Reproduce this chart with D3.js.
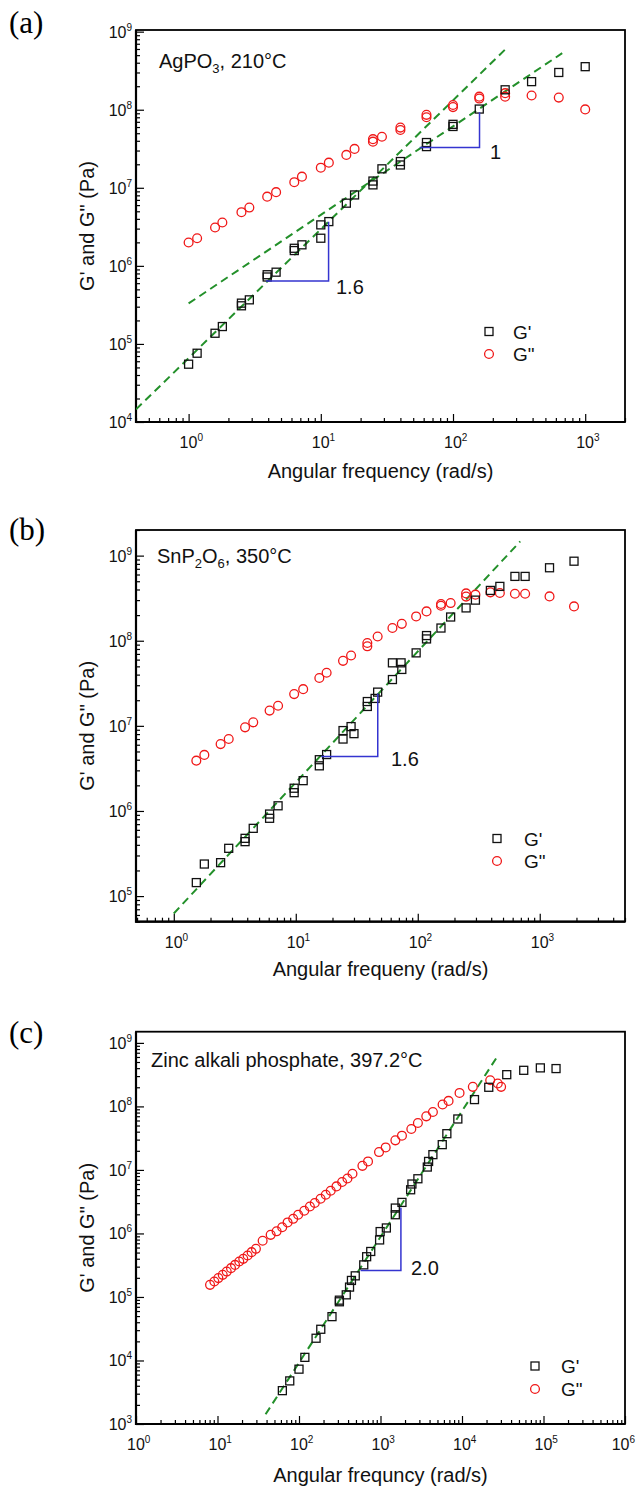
<!DOCTYPE html>
<html>
<head>
<meta charset="utf-8">
<script src="https://cdn.jsdelivr.net/npm/d3@7"></script>
<style>
  html, body { margin: 0; padding: 0; background: #fff; }
  svg { display: block; }
</style>
</head>
<body>
<svg id="fig" width="636" height="1489"></svg>
<script>
// ---------- Panel (a): AgPO3, 210 °C ----------
const aGpFreq  = [1.0, 1.16, 1.585, 1.8, 2.51, 2.51, 2.88, 3.93, 3.93, 4.59, 6.3, 6.3, 7.2, 10, 10, 11.5, 15.6, 18, 24.8, 24.8, 29, 40, 40, 63, 63, 100, 100, 158, 248, 393, 631, 1000];
const aGpMod   = [5.5e4, 7.6e4, 1.37e5, 1.67e5, 3.08e5, 3.33e5, 3.67e5, 7.2e5, 7.7e5, 8.3e5, 1.57e6, 1.68e6, 1.86e6, 2.26e6, 3.35e6, 3.69e6, 6.35e6, 8.1e6, 1.09e7, 1.22e7, 1.75e7, 1.96e7, 2.17e7, 3.37e7, 3.8e7, 6.1e7, 6.5e7, 1.02e8, 1.8e8, 2.29e8, 3.0e8, 3.56e8];
const aGppFreq = [1.0, 1.16, 1.585, 1.8, 2.51, 2.88, 3.93, 4.59, 6.3, 7.2, 10, 11.5, 15.6, 18, 24.8, 24.8, 29, 40, 40, 63, 63, 100, 100, 158, 158, 248, 248, 393, 631, 1000];
const aGppMod  = [1.99e6, 2.26e6, 3.1e6, 3.59e6, 4.87e6, 5.58e6, 7.7e6, 8.8e6, 1.18e7, 1.39e7, 1.81e7, 2.1e7, 2.64e7, 3.15e7, 3.9e7, 4.2e7, 4.5e7, 5.5e7, 5.9e7, 8.0e7, 8.6e7, 1.08e8, 1.15e8, 1.39e8, 1.47e8, 1.47e8, 1.63e8, 1.52e8, 1.43e8, 1.01e8];
const aFit1Freq = [0.4, 253];
const aFit1Mod  = [1.45e4, 6.1e8];
const aFit2Freq = [1, 670];
const aFit2Mod  = [3.3e5, 5.3e8];
const aSlopeLabels = ["1.6", "1"];
const aSlopeValues = [1.6, 1];
const aTriFreq = [[3.85, 11.45], [56, 158.7]];
const aTriBase = [6.4e5, 3.27e7];
const aXTicks = [1, 10, 100, 1000];
const aYTicks = [1e4, 1e5, 1e6, 1e7, 1e8, 1e9];

// ---------- Panel (b): SnP2O6, 350 °C ----------
const bGpFreq  = [1.53, 1.78, 2.42, 2.82, 3.84, 3.84, 4.48, 6.1, 6.1, 7.16, 9.7, 9.7, 11.5, 15.6, 15.6, 17.9, 24.4, 24.4, 28.4, 30, 38.6, 38.6, 44.7, 46.9, 62, 62, 73, 74, 97, 118, 118, 155, 186, 249, 297, 394, 471, 626, 759, 1203, 1910];
const bGpMod   = [1.44e5, 2.38e5, 2.47e5, 3.64e5, 4.36e5, 4.77e5, 6.25e5, 8.2e5, 9.2e5, 1.15e6, 1.64e6, 1.85e6, 2.27e6, 3.39e6, 4.0e6, 4.6e6, 7.0e6, 8.8e6, 9.8e6, 8.1e6, 1.69e7, 1.93e7, 2.1e7, 2.49e7, 3.5e7, 5.5e7, 5.5e7, 4.6e7, 7.2e7, 1.05e8, 1.15e8, 1.41e8, 1.9e8, 2.43e8, 3.0e8, 3.9e8, 4.35e8, 5.7e8, 5.7e8, 7.2e8, 8.6e8];
const bGppFreq = [1.53, 1.78, 2.42, 2.82, 3.84, 4.48, 6.1, 7.16, 9.7, 11.5, 15.6, 17.9, 24.4, 28.4, 38.6, 38.6, 46.9, 62, 74, 97, 118, 155, 155, 186, 249, 249, 297, 394, 471, 626, 759, 1203, 1910];
const bGppMod  = [3.9e6, 4.56e6, 6.1e6, 7.0e6, 9.6e6, 1.1e7, 1.51e7, 1.72e7, 2.36e7, 2.7e7, 3.65e7, 4.2e7, 5.8e7, 6.7e7, 8.6e7, 9.4e7, 1.12e8, 1.41e8, 1.58e8, 1.93e8, 2.21e8, 2.58e8, 2.7e8, 2.77e8, 3.3e8, 3.6e8, 3.48e8, 3.7e8, 3.64e8, 3.57e8, 3.57e8, 3.32e8, 2.53e8];
const bFitFreq = [1.0, 692];
const bFitMod  = [6.25e4, 1.47e9];
const bSlopeLabels = ["1.6"];
const bSlopeValues = [1.6];
const bTriFreq = [[16.2, 47]];
const bTriBase = [4.35e6];
const bXTicks = [1, 10, 100, 1000];
const bYTicks = [1e5, 1e6, 1e7, 1e8, 1e9];

// ---------- Panel (c): zinc alkali phosphate, 397.2 °C ----------
const cGpFreq  = [62.5, 77, 100, 118, 162, 185, 254, 313, 313, 380, 417, 440, 490, 623, 676, 759, 975, 990, 1180, 1520, 1520, 1833, 2343, 2430, 2876, 3752, 3890, 4395, 5725, 6518, 8890, 14230, 21300, 35400, 57200, 91500, 142500];
const cGpMod   = [3.35e3, 4.77e3, 7.3e3, 1.12e4, 2.24e4, 3.1e4, 4.9e4, 8.4e4, 8.9e4, 1.08e5, 1.43e5, 1.82e5, 2.15e5, 3.2e5, 4.3e5, 5.2e5, 7.9e5, 1.07e6, 1.22e6, 1.97e6, 2.51e6, 3.08e6, 4.87e6, 6.0e6, 7.26e6, 1.11e7, 1.36e7, 1.74e7, 2.5e7, 3.72e7, 6.34e7, 1.28e8, 2.0e8, 3.16e8, 3.7e8, 4.04e8, 3.94e8];
const cGppFreq = [8.10, 9.15, 10.24, 11.59, 12.97, 14.65, 16.4, 18.5, 20.7, 23.4, 26.2, 29.6, 35.8, 44.9, 53.1, 62.2, 72.4, 84.8, 97.6, 116, 136, 156, 184, 213, 245, 288, 338, 393, 453, 600, 703, 959, 1158, 1522, 1833, 2389, 2876, 3645, 4395, 5777, 6840, 9330, 13580, 22180, 27480, 30200];
const cGppMod  = [1.55e5, 1.75e5, 1.98e5, 2.23e5, 2.51e5, 2.84e5, 3.2e5, 3.61e5, 3.98e5, 4.49e5, 5.08e5, 5.73e5, 7.66e5, 9.5e5, 1.08e6, 1.25e6, 1.49e6, 1.70e6, 1.97e6, 2.28e6, 2.66e6, 3.01e6, 3.52e6, 4.06e6, 4.7e6, 5.5e6, 6.45e6, 7.34e6, 8.71e6, 1.16e7, 1.36e7, 1.91e7, 2.26e7, 2.92e7, 3.46e7, 4.41e7, 5.49e7, 6.97e7, 8.17e7, 1.07e8, 1.22e8, 1.63e8, 2.03e8, 2.58e8, 2.29e8, 2.03e8];
const cFitFreq = [38.9, 28000];
const cFitMod  = [1.42e3, 6.5e8];
const cSlopeLabels = ["2.0"];
const cSlopeValues = [2.0];
const cTriFreq = [[569, 1780]];
const cTriBase = [2.6e5];
const cXTicks = [1, 10, 100, 1000, 1e4, 1e5, 1e6];
const cYTicks = [1e3, 1e4, 1e5, 1e6, 1e7, 1e8, 1e9];

const legendLabels = ["G'", 'G"'];
const yTitle = 'G\' and G" (Pa)';

// ---------- styling ----------
const FONT = "'Liberation Sans', Arial, Helvetica, sans-serif";
const SERIF = "'Liberation Serif', 'Times New Roman', serif";
const RED = "#f01818";
const BLACK = "#111";
const GREEN = "#23902a";
const BLUE = "#3434d0";
const PAGE_W = 636;

const panels = [
  {
    letter: "(a)", letterY: 33,
    box: { x0: 136, x1: 625, y0: 30, y1: 422 },
    xDomain: [0.4, 2000], yDomain: [1e4, 1.05e9],
    xTicks: aXTicks, yTicks: aYTicks,
    gp: [aGpFreq, aGpMod], gpp: [aGppFreq, aGppMod],
    fits: [[aFit1Freq, aFit1Mod], [aFit2Freq, aFit2Mod]],
    tris: aTriFreq.map((f, i) => ({ f, base: aTriBase[i], slope: aSlopeValues[i], label: aSlopeLabels[i] })),
    triLabelPos: [[336, 294], [490, 159]],
    title: [{ t: "AgPO" }, { t: "3", sub: true }, { t: ", 210°C" }], titlePos: [159, 68],
    legend: { x: 489, y: 331.5, tx: 513, dy: 22.5 },
    xTitle: "Angular frequency (rad/s)", xTitleY: 478
  },
  {
    letter: "(b)", letterY: 540,
    box: { x0: 136, x1: 625, y0: 530, y1: 921.7 },
    xDomain: [0.49, 5000], yDomain: [5e4, 2e9],
    xTicks: bXTicks, yTicks: bYTicks,
    gp: [bGpFreq, bGpMod], gpp: [bGppFreq, bGppMod],
    fits: [[bFitFreq, bFitMod]],
    tris: bTriFreq.map((f, i) => ({ f, base: bTriBase[i], slope: bSlopeValues[i], label: bSlopeLabels[i] })),
    triLabelPos: [[391, 766]],
    title: [{ t: "SnP" }, { t: "2", sub: true }, { t: "O" }, { t: "6", sub: true }, { t: ", 350°C" }], titlePos: [157, 563],
    legend: { x: 497, y: 838.5, tx: 524, dy: 22.5 },
    xTitle: "Angular frequeny (rad/s)", xTitleY: 976
  },
  {
    letter: "(c)", letterY: 1043,
    box: { x0: 136, x1: 625, y0: 1031.7, y1: 1424 },
    xDomain: [1, 1e6], yDomain: [1e3, 1.5e9],
    xTicks: cXTicks, yTicks: cYTicks,
    gp: [cGpFreq, cGpMod], gpp: [cGppFreq, cGppMod],
    fits: [[cFitFreq, cFitMod]],
    tris: cTriFreq.map((f, i) => ({ f, base: cTriBase[i], slope: cSlopeValues[i], label: cSlopeLabels[i] })),
    triLabelPos: [[411, 1275]],
    title: [{ t: "Zinc alkali phosphate, 397.2°C" }], titlePos: [151, 1067],
    legend: { x: 535, y: 1366, tx: 561, dy: 23 },
    xTitle: "Angular frequncy (rad/s)", xTitleY: 1482
  }
];

const svg = d3.select("#fig");
svg.append("rect").attr("width", PAGE_W).attr("height", 1489).attr("fill", "#fff");

function minorTicks(domain) {
  const out = [];
  const e0 = Math.floor(Math.log10(domain[0])), e1 = Math.ceil(Math.log10(domain[1]));
  for (let e = e0; e <= e1; e++) {
    for (let k = 2; k <= 9; k++) {
      const v = k * Math.pow(10, e);
      if (v >= domain[0] && v <= domain[1]) out.push(v);
    }
  }
  return out;
}

function powLabel(sel, v) {
  const e = Math.round(Math.log10(v));
  sel.append("tspan").text("10");
  sel.append("tspan").attr("dy", -7).attr("font-size", 10).text(e);
}

panels.forEach((p, pi) => {
  const b = p.box;
  const x = d3.scaleLog().domain(p.xDomain).range([b.x0, b.x1]);
  const y = d3.scaleLog().domain(p.yDomain).range([b.y1, b.y0]);
  const g = svg.append("g");

  const clipId = "clip" + pi;
  g.append("clipPath").attr("id", clipId)
    .append("rect").attr("x", b.x0).attr("y", b.y0)
    .attr("width", b.x1 - b.x0).attr("height", b.y1 - b.y0);

  // bottom axis ticks (pointing inward)
  const xMaj = g.append("g").attr("transform", `translate(0,${b.y1})`)
    .call(d3.axisBottom(x).tickValues(p.xTicks).tickSize(-8).tickFormat(() => ""));
  const xMin = g.append("g").attr("transform", `translate(0,${b.y1})`)
    .call(d3.axisBottom(x).tickValues(minorTicks(p.xDomain)).tickSize(-4).tickFormat(() => ""));
  // left axis ticks (pointing inward)
  const yMaj = g.append("g").attr("transform", `translate(${b.x0},0)`)
    .call(d3.axisLeft(y).tickValues(p.yTicks).tickSize(-8).tickFormat(() => ""));
  const yMin = g.append("g").attr("transform", `translate(${b.x0},0)`)
    .call(d3.axisLeft(y).tickValues(minorTicks(p.yDomain)).tickSize(-4).tickFormat(() => ""));
  [xMaj, xMin, yMaj, yMin].forEach(a => {
    a.select(".domain").remove();
    a.selectAll(".tick line").attr("stroke", "#000").attr("stroke-width", 1.2);
  });

  // frame
  g.append("rect").attr("x", b.x0).attr("y", b.y0)
    .attr("width", b.x1 - b.x0).attr("height", b.y1 - b.y0)
    .attr("fill", "none").attr("stroke", "#000").attr("stroke-width", 1.8);
  g.append("path")
    .attr("d", `M${b.x0},${b.y0}V${b.y1}H${b.x1}`)
    .attr("fill", "none").attr("stroke", "#000").attr("stroke-width", 2.2);

  // tick labels; the last one is nudged inward if it would run past the page edge
  p.xTicks.forEach(v => {
    const t = g.append("text").attr("x", x(v) - 9).attr("y", b.y1 + 26)
      .attr("font-family", FONT).attr("font-size", 16).attr("fill", "#111");
    powLabel(t, v);
    const w = t.node().getComputedTextLength();
    const over = (x(v) - 9 + w) - (PAGE_W - 1);
    if (over > 0) t.attr("x", x(v) - 9 - over);
  });
  p.yTicks.forEach(v => {
    const t = g.append("text").attr("x", b.x0 - 4).attr("y", y(v) + 6)
      .attr("text-anchor", "end")
      .attr("font-family", FONT).attr("font-size", 16).attr("fill", "#111");
    powLabel(t, v);
  });

  // axis titles
  g.append("text").attr("x", (b.x0 + b.x1) / 2).attr("y", p.xTitleY)
    .attr("text-anchor", "middle").attr("font-family", FONT).attr("font-size", 20)
    .attr("fill", "#111").text(p.xTitle);
  g.append("text")
    .attr("transform", `translate(94,${(b.y0 + b.y1) / 2}) rotate(-90)`)
    .attr("text-anchor", "middle").attr("font-family", FONT).attr("font-size", 20)
    .attr("fill", "#111").text(yTitle);

  // panel letter
  g.append("text").attr("x", 9).attr("y", p.letterY)
    .attr("font-family", SERIF).attr("font-size", 31).attr("fill", "#000").text(p.letter);

  const plot = g.append("g").attr("clip-path", `url(#${clipId})`);

  // power-law guide lines
  const line = d3.line().x(d => x(d[0])).y(d => y(d[1]));
  p.fits.forEach(([fx, fy]) => {
    plot.append("path").datum(fx.map((v, i) => [v, fy[i]]))
      .attr("d", line).attr("fill", "none")
      .attr("stroke", GREEN).attr("stroke-width", 2).attr("stroke-dasharray", "8,5");
  });

  // G'' circles
  const gppData = p.gpp[0].map((v, i) => [v, p.gpp[1][i]]);
  plot.selectAll("circle.gpp").data(gppData).join("circle")
    .attr("class", "gpp")
    .attr("cx", d => x(d[0])).attr("cy", d => y(d[1])).attr("r", 4.4)
    .attr("fill", "none").attr("stroke", RED).attr("stroke-width", 1.3);

  // G' squares
  const gpData = p.gp[0].map((v, i) => [v, p.gp[1][i]]);
  plot.selectAll("rect.gp").data(gpData).join("rect")
    .attr("class", "gp")
    .attr("x", d => x(d[0]) - 4).attr("y", d => y(d[1]) - 4)
    .attr("width", 8).attr("height", 8)
    .attr("fill", "none").attr("stroke", BLACK).attr("stroke-width", 1.3);

  // slope triangles
  p.tris.forEach((t, i) => {
    const top = t.base * Math.pow(t.f[1] / t.f[0], t.slope);
    g.append("path")
      .attr("d", `M${x(t.f[0])},${y(t.base)}H${x(t.f[1])}V${y(top)}`)
      .attr("fill", "none").attr("stroke", BLUE).attr("stroke-width", 1.5);
    g.append("text").attr("x", p.triLabelPos[i][0]).attr("y", p.triLabelPos[i][1])
      .attr("font-family", FONT).attr("font-size", 20).attr("fill", "#111").text(t.label);
  });

  // sample annotation
  const tt = g.append("text").attr("x", p.titlePos[0]).attr("y", p.titlePos[1])
    .attr("font-family", FONT).attr("font-size", 20).attr("fill", "#111");
  let lowered = false;
  p.title.forEach(part => {
    const s = tt.append("tspan").text(part.t);
    if (part.sub && !lowered) { s.attr("dy", 5).attr("font-size", 13); lowered = true; }
    else if (!part.sub && lowered) { s.attr("dy", -5); lowered = false; }
  });

  // legend
  const L = p.legend;
  g.append("rect").attr("x", L.x - 4).attr("y", L.y - 4).attr("width", 8).attr("height", 8)
    .attr("fill", "none").attr("stroke", BLACK).attr("stroke-width", 1.3);
  g.append("circle").attr("cx", L.x).attr("cy", L.y + L.dy).attr("r", 4.4)
    .attr("fill", "none").attr("stroke", RED).attr("stroke-width", 1.3);
  legendLabels.forEach((lab, i) => {
    g.append("text").attr("x", L.tx).attr("y", L.y + i * L.dy + 7)
      .attr("font-family", FONT).attr("font-size", 19).attr("fill", "#111").text(lab);
  });
});
</script>
</body>
</html>
